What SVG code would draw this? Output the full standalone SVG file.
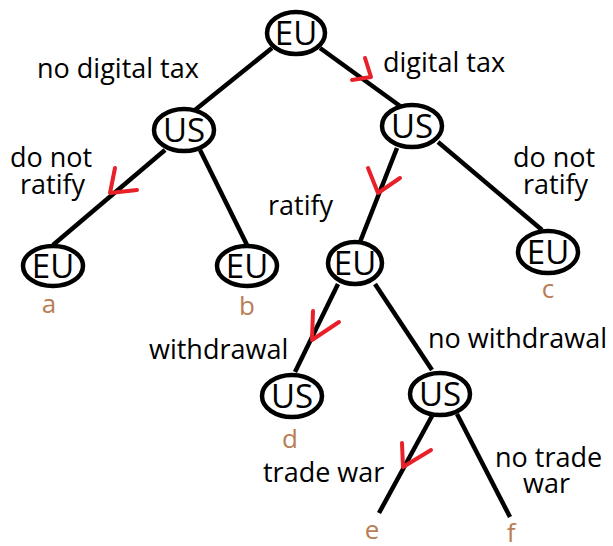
<svg xmlns="http://www.w3.org/2000/svg" width="613" height="546" viewBox="0 0 613 546">
<style>
.n{fill:#fff;stroke:#000;stroke-width:4.5}
.nt{font-family:"Open Sans",sans-serif;font-size:33px;text-anchor:middle;fill:#000}
.e{stroke:#000;stroke-width:4.5;fill:none;stroke-linecap:butt}
.r{stroke:#e8202a;stroke-width:4;fill:none;stroke-linecap:round;stroke-linejoin:round}
.l{font-family:"Open Sans",sans-serif;font-size:27px;fill:#000}
.p{font-family:"Open Sans",sans-serif;font-size:26px;fill:#b97d55;text-anchor:middle}
</style>
<rect width="613" height="546" fill="#fff"/>
<g id="edges">
<line class="e" x1="272" y1="48" x2="195" y2="110"/>
<line class="e" x1="320" y1="48" x2="400" y2="106"/>
<line class="e" x1="165" y1="150" x2="53" y2="245"/>
<line class="e" x1="200" y1="150" x2="247" y2="245"/>
<line class="e" x1="397" y1="148" x2="360" y2="242"/>
<line class="e" x1="438" y1="142" x2="542" y2="230"/>
<line class="e" x1="338" y1="284" x2="295" y2="372"/>
<line class="e" x1="375" y1="284" x2="432" y2="370"/>
<line class="e" x1="432" y1="416" x2="379" y2="513"/>
<line class="e" x1="457" y1="414" x2="510" y2="517"/>
<path class="r" d="M365 58 L371 77 L352 80"/>
<path class="r" d="M115 168 L110 193 L137 190"/>
<path class="r" d="M368 168 L378 193 L400 178"/>
<path class="r" d="M313 311 L312 340 L339 322"/>
<path class="r" d="M402 443 L403 467 L431 450"/>
</g>
<g id="n-root"><ellipse class="n" cx="296" cy="33" rx="29" ry="21"/><text class="nt" x="296" y="45">EU</text></g>
<g id="n-us1"><ellipse class="n" cx="184" cy="130" rx="30" ry="21"/><text class="nt" x="184" y="142">US</text></g>
<g id="n-us2"><ellipse class="n" cx="412" cy="126" rx="30" ry="21"/><text class="nt" x="412" y="138">US</text></g>
<g id="n-a"><ellipse class="n" cx="53" cy="266" rx="30" ry="20"/><text class="nt" x="53" y="278">EU</text><text class="p" x="49" y="313">a</text></g>
<g id="n-b"><ellipse class="n" cx="247" cy="266" rx="30" ry="20"/><text class="nt" x="247" y="278">EU</text><text class="p" x="247" y="315">b</text></g>
<g id="n-eu"><ellipse class="n" cx="355" cy="263" rx="27" ry="21"/><text class="nt" x="355" y="275">EU</text></g>
<g id="n-c"><ellipse class="n" cx="548" cy="252" rx="30" ry="21"/><text class="nt" x="548" y="264">EU</text><text class="p" x="548" y="298">c</text></g>
<g id="n-d"><ellipse class="n" cx="292" cy="396" rx="30" ry="21"/><text class="nt" x="292" y="408">US</text><text class="p" x="290" y="448">d</text></g>
<g id="n-us3"><ellipse class="n" cx="440" cy="394" rx="30" ry="21"/><text class="nt" x="440" y="406">US</text></g>
<g id="leaves"><text class="p" x="372" y="539">e</text><text class="p" x="511" y="542">f</text></g>
<g id="labels">
<text class="l" x="37" y="78">no digital tax</text>
<text class="l" x="383" y="72">digital tax</text>
<text class="l" x="10" y="167">do not</text>
<text class="l" x="20" y="194">ratify</text>
<text class="l" x="268" y="215">ratify</text>
<text class="l" x="513" y="167">do not</text>
<text class="l" x="523" y="194">ratify</text>
<text class="l" x="149" y="359">withdrawal</text>
<text class="l" x="428" y="348">no withdrawal</text>
<text class="l" x="263" y="482">trade war</text>
<text class="l" x="495" y="467">no trade</text>
<text class="l" x="523" y="493">war</text>
</g>
</svg>
